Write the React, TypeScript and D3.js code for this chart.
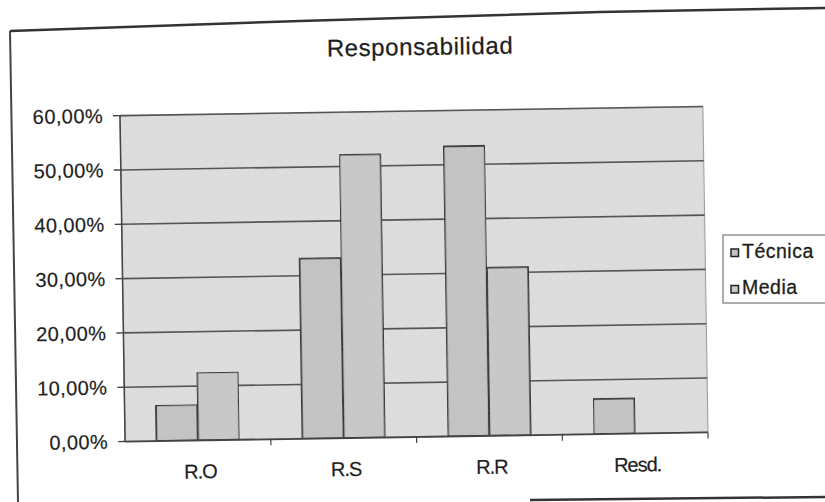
import React from "react";
import * as d3 from "d3";

const categories = ["R.O", "R.S", "R.R", "Resd."];
const series = ["Técnica", "Media"];
const tecnica = [6.6, 33.2, 53.4, 6.5];
const media = [12.5, 52.2, 31.0, 0];
const yTicks = [0, 10, 20, 30, 40, 50, 60];
const title = "Responsabilidad";

const W = 825;
const H = 502;
const plot = { left: 122.5, right: 705.5, top: 111, bottom: 437 };
const ROT = -0.9;
const CX = 414;
const CY = 274;

export default function App() {
  const x0 = d3.scaleBand<string>().domain(categories).range([plot.left, plot.right]).padding(0);
  const bw = x0.bandwidth();
  const x1 = d3.scaleBand<string>().domain(series).range([bw * 0.215, bw * 0.785]).padding(0);
  const y = d3.scaleLinear().domain([0, 60]).range([plot.bottom, plot.top]);
  const values = [tecnica, media];
  const fills = ["#c4c4c4", "#c9c9c9"];
  const font = "'Liberation Sans', Arial, sans-serif";
  const ink = "#1e1e1e";
  const fmt = (v: number) => v.toFixed(2).replace(".", ",") + "%";

  return (
    <svg width={W} height={H} style={{ position: "absolute", left: 0, top: 0, background: "#fff" }}>
      <defs>
        <filter id="noise" x="0" y="0" width="1" height="1">
          <feTurbulence type="fractalNoise" baseFrequency="0.8" numOctaves="2" seed="3" result="n" />
          <feColorMatrix type="saturate" values="0" in="n" result="g" />
          <feComponentTransfer in="g" result="a">
            <feFuncA type="linear" slope="0.14" />
          </feComponentTransfer>
          <feComposite in="a" in2="SourceGraphic" operator="in" result="c" />
          <feMerge>
            <feMergeNode in="SourceGraphic" />
            <feMergeNode in="c" />
          </feMerge>
        </filter>
      </defs>

      {/* outer frame of the scanned page */}
      <polyline points="10,31 300,21 600,12 825,8" fill="none" stroke="#333" strokeWidth={2.5} />
      <line x1={10} y1={31} x2={18} y2={502} stroke="#444" strokeWidth={2} />
      <line x1={530} y1={500} x2={825} y2={497} stroke="#333" strokeWidth={2.5} />

      <text
        x={420}
        y={55}
        textAnchor="middle"
        fontFamily={font}
        fontSize={24}
        letterSpacing={0.6}
        fill={ink}
        stroke={ink}
        strokeWidth={0.25}
        transform={`rotate(${ROT} 420 48)`}
      >
        {title}
      </text>

      <g transform={`rotate(${ROT} ${CX} ${CY})`}>
        <rect
          x={plot.left}
          y={plot.top}
          width={plot.right - plot.left}
          height={plot.bottom - plot.top}
          fill="#dfdfdf"
          stroke="#999"
          strokeWidth={1.2}
          filter="url(#noise)"
        />
        {yTicks.map((t) => (
          <g key={t}>
            {t > 0 && (
              <line x1={plot.left} x2={plot.right} y1={y(t)} y2={y(t)} stroke="#555" strokeWidth={1.6} />
            )}
            <line x1={plot.left - 7} x2={plot.left} y1={y(t)} y2={y(t)} stroke="#444" strokeWidth={1.4} />
            <text
              x={plot.left - 17}
              y={y(t) + 7}
              textAnchor="end"
              fontFamily={font}
              fontSize={20}
              letterSpacing={0.4}
              fill={ink}
              stroke={ink}
              strokeWidth={0.2}
            >
              {fmt(t)}
            </text>
          </g>
        ))}
        <line x1={plot.left} x2={plot.left} y1={plot.top} y2={plot.bottom} stroke="#444" strokeWidth={1.5} />
        {categories.map((c, i) => (
          <g key={c}>
            {i > 0 && (
              <line
                x1={x0(c) as number}
                x2={x0(c) as number}
                y1={plot.bottom}
                y2={plot.bottom + 6}
                stroke="#444"
                strokeWidth={1.2}
              />
            )}
            {series.map((s, j) => {
              const v = values[j][i];
              if (v <= 0) return null;
              return (
                <rect
                  key={s}
                  x={(x0(c) as number) + (x1(s) as number)}
                  y={y(v)}
                  width={x1.bandwidth()}
                  height={plot.bottom - y(v)}
                  fill={fills[j]}
                  stroke="#1a1a1a"
                  strokeWidth={2}
                  filter="url(#noise)"
                />
              );
            })}
            <text
              x={(x0(c) as number) + bw / 2 + 2}
              y={plot.bottom + 38}
              textAnchor="middle"
              fontFamily={font}
              fontSize={20}
              letterSpacing={-1}
              fill={ink}
              stroke={ink}
              strokeWidth={0.2}
            >
              {c}
            </text>
          </g>
        ))}
        <line x1={plot.left} x2={plot.right} y1={plot.bottom} y2={plot.bottom} stroke="#444" strokeWidth={1.8} />
        <line x1={plot.right} x2={plot.right} y1={plot.bottom} y2={plot.bottom + 6} stroke="#444" strokeWidth={1.2} />
      </g>

      {/* legend */}
      <g>
        <rect x={723} y={235} width={110} height={68} fill="#fff" stroke="#777" strokeWidth={1.2} />
        {series.map((s, j) => (
          <g key={s}>
            <rect
              x={731}
              y={249 + j * 36.5}
              width={7.5}
              height={7.5}
              fill={fills[j]}
              stroke="#222"
              strokeWidth={1.5}
            />
            <text
              x={742}
              y={257.5 + j * 36.5}
              fontFamily={font}
              fontSize={19.5}
              letterSpacing={0.5}
              fill={ink}
              stroke={ink}
              strokeWidth={0.3}
            >
              {s}
            </text>
          </g>
        ))}
      </g>
    </svg>
  );
}
